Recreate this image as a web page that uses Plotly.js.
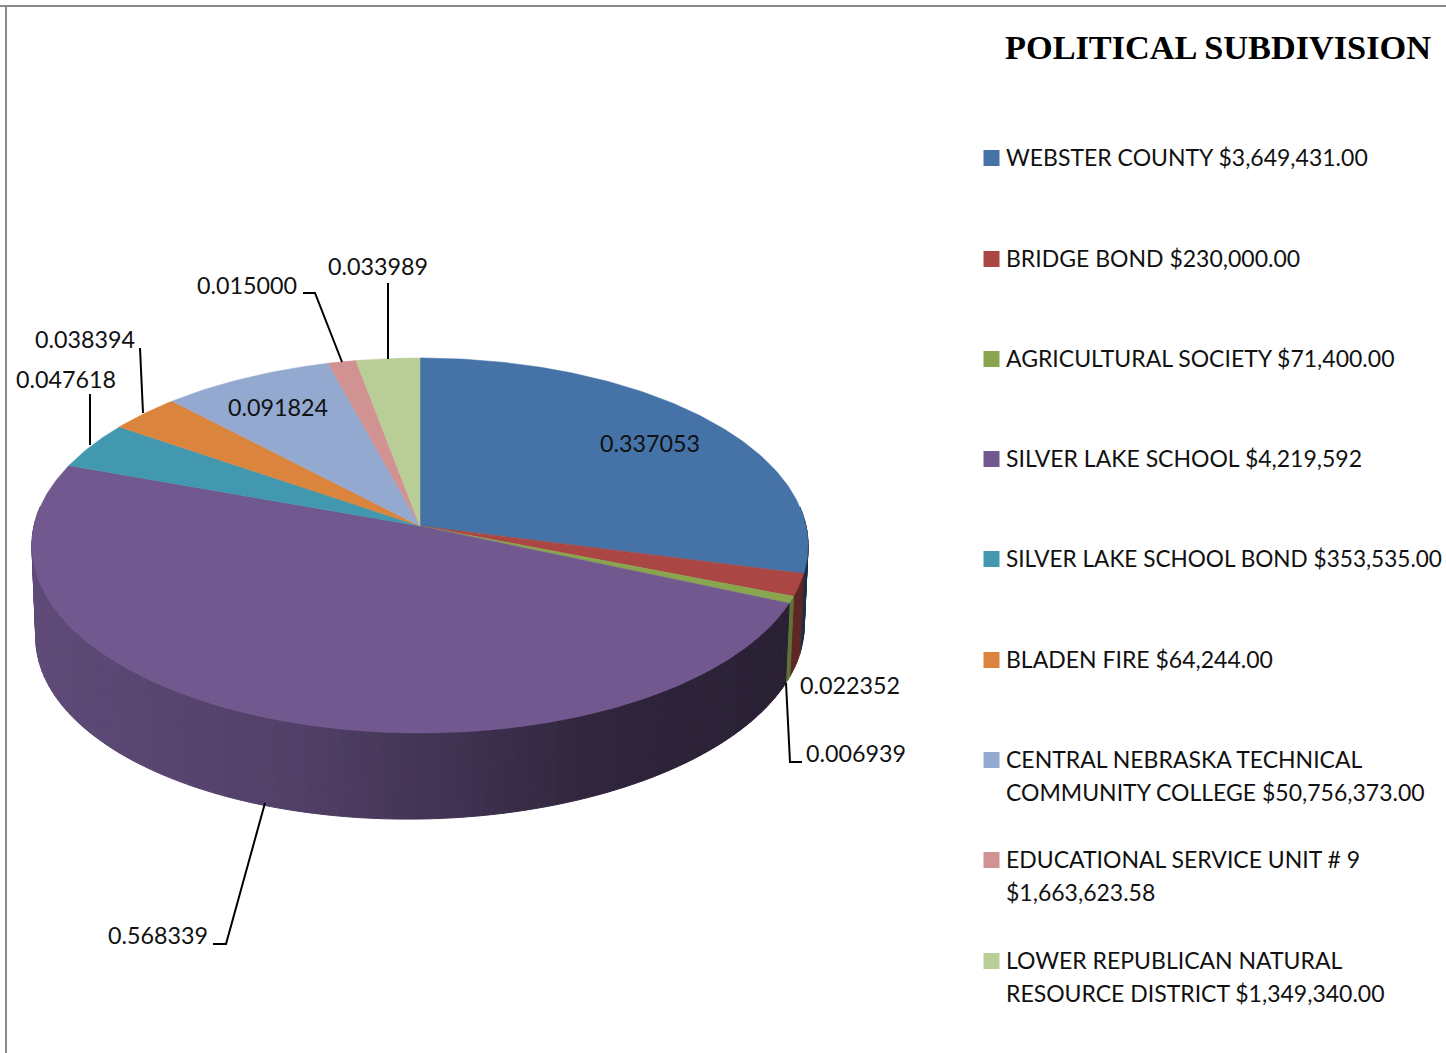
<!DOCTYPE html>
<html>
<head>
<meta charset="utf-8">
<script src="https://cdn.plot.ly/plotly-3.0.1.min.js"></script>
<style>html,body{margin:0;padding:0;background:#fff;overflow:hidden}#chart{width:1446px;height:1053px}</style>
</head>
<body>
<div id="chart"></div>
<script>
// ---- data ----
const categories = ["WEBSTER COUNTY", "BRIDGE BOND", "AGRICULTURAL SOCIETY", "SILVER LAKE SCHOOL",
  "SILVER LAKE SCHOOL BOND", "BLADEN FIRE", "CENTRAL NEBRASKA TECHNICAL COMMUNITY COLLEGE",
  "EDUCATIONAL SERVICE UNIT # 9", "LOWER REPUBLICAN NATURAL RESOURCE DISTRICT"];
const values = [0.337053, 0.022352, 0.006939, 0.568339, 0.047618, 0.038394, 0.091824, 0.015000, 0.033989];
const legendLines = [
  ["WEBSTER COUNTY $3,649,431.00"],
  ["BRIDGE BOND $230,000.00"],
  ["AGRICULTURAL SOCIETY $71,400.00"],
  ["SILVER LAKE SCHOOL $4,219,592"],
  ["SILVER LAKE SCHOOL BOND $353,535.00"],
  ["BLADEN FIRE $64,244.00"],
  ["CENTRAL NEBRASKA TECHNICAL", "COMMUNITY COLLEGE $50,756,373.00"],
  ["EDUCATIONAL SERVICE UNIT # 9", "$1,663,623.58"],
  ["LOWER REPUBLICAN NATURAL", "RESOURCE DISTRICT $1,349,340.00"]
];
// ---- styles and layout ----
const colors = ["#4572A7","#AA4643","#89A54E","#71588F","#4198AF","#DB843D","#93A9CF","#D19392","#B9CD96"];
const wallBoost = [1.15,1.5,1.9,1,1,1,1,1,1];
const legendY = [158,259,359,459,559,660,760,860,961];
const legendSize = [23,23,23,23,22.6,23,23,23,23];
const labelPos = [[599,443],[799,685],[805,753],[107,935],[15,379],[34,339],[227,407],[196,285],[327,266]];
const leaders = [
  [[786,683],[790,762],[802,762]],
  [[265,803],[226,944],[213,944]],
  [[90,394],[90,445]],
  [[140,348],[143,413]],
  [[303,293],[315,293],[342,362]],
  [[388,283],[388,359]]
];
const FONT = "Lato, Carlito, Calibri, sans-serif";
const TXT = "#111111";
// pie projection (perspective ellipse with apex off ellipse centre)
const CX = 420, CY = 526, R = 386, A = 185.5, P = 0.104;
const BX = 0.99, BY = 612, TILT = 6;
function proj(th){ const t=Math.sin(th), s=-Math.cos(th), d=1-P*s; return [R*t/d, A*s/d]; }
function rimT(th){ const q=proj(th); return [CX+q[0], CY+q[1]]; }
function rimB(th){ const q=proj(th); return [CX+BX*q[0], BY+q[1]-TILT*q[0]/390]; }
function shade(x0){
  const k=[[-390,.84],[-120,.72],[0,.60],[180,.42],[390,.36]];
  for(let i=0;i<k.length-1;i++){ if(x0<=k[i+1][0]){ const f=(x0-k[i][0])/(k[i+1][0]-k[i][0]); return k[i][1]+f*(k[i+1][1]-k[i][1]); } }
  return .36;
}
function mult(hex,f){ const n=parseInt(hex.slice(1),16); const c=[n>>16,(n>>8)&255,n&255].map(v=>Math.min(255,Math.round(v*f))); return `rgb(${c[0]},${c[1]},${c[2]})`; }

const total = values.reduce((a,b)=>a+b,0);
const traces = [];
const STEP = Math.PI/120;
const VIS0 = Math.acos(P), VIS1 = 2*Math.PI-VIS0;
let cum = 0;
const spans = values.map(v=>{ const a=cum/total*2*Math.PI; cum+=v; return [a,cum/total*2*Math.PI]; });

// side wall strips
spans.forEach((sp,i)=>{
  const a=Math.max(sp[0],VIS0), b=Math.min(sp[1],VIS1);
  if(b<=a) return;
  const n=Math.max(1,Math.ceil((b-a)/STEP));
  for(let j=0;j<n;j++){
    const t0=a+(b-a)*j/n, t1=a+(b-a)*(j+1)/n;
    const p=[rimT(t0),rimT(t1),rimB(t1),rimB(t0),rimT(t0)];
    const col=mult(colors[i],shade(proj((t0+t1)/2)[0])*wallBoost[i]);
    traces.push({type:"scatter",mode:"lines",x:p.map(q=>q[0]),y:p.map(q=>q[1]),fill:"toself",fillcolor:col,
      line:{color:col,width:1},hoverinfo:"skip",showlegend:false});
  }
});
// top faces
spans.forEach((sp,i)=>{
  const xs=[CX], ys=[CY];
  const n=Math.max(2,Math.ceil((sp[1]-sp[0])/(STEP/2)));
  for(let j=0;j<=n;j++){ const q=rimT(sp[0]+(sp[1]-sp[0])*j/n); xs.push(q[0]); ys.push(q[1]); }
  xs.push(CX); ys.push(CY);
  traces.push({type:"scatter",mode:"lines",x:xs,y:ys,fill:"toself",fillcolor:colors[i],name:categories[i],
    line:{color:colors[i],width:0.5},hoverinfo:"name",showlegend:false});
});
// legend swatches
traces.push({type:"scatter",mode:"markers",x:categories.map(()=>991.5),y:legendY,
  marker:{symbol:"square",size:16,color:colors,line:{width:0}},hoverinfo:"skip",showlegend:false});

const annotations = [];
values.forEach((v,i)=>annotations.push({x:labelPos[i][0],y:labelPos[i][1],xref:"x",yref:"y",xanchor:"left",yanchor:"middle",
  text:v.toFixed(6),showarrow:false,borderpad:0,font:{family:FONT,size:23.3,color:TXT}}));
legendLines.forEach((ls,i)=>ls.forEach((t,j)=>annotations.push({x:1004.5,y:legendY[i]-1+j*33,xref:"x",yref:"y",xanchor:"left",yanchor:"middle",
  text:t,showarrow:false,borderpad:0,font:{family:FONT,size:legendSize[i],color:TXT}})));

const shapes = leaders.map(l=>({type:"path",xref:"x",yref:"y",
  path:l.map((q,i)=>(i?"L":"M")+q[0]+" "+q[1]).join(" "),line:{color:"#000",width:2}}));
shapes.push({type:"line",xref:"x",yref:"y",x0:0,x1:1446,y0:6,y1:6,line:{color:"#8c8c8c",width:2}});
shapes.push({type:"line",xref:"x",yref:"y",x0:6,x1:6,y0:6,y1:1053,line:{color:"#8c8c8c",width:2}});

const layout = {
  width:1446,height:1053,margin:{l:0,r:0,t:0,b:0},paper_bgcolor:"#fff",plot_bgcolor:"#fff",showlegend:false,
  title:{text:"<b>POLITICAL SUBDIVISION</b>",x:1005/1446,xanchor:"left",xref:"paper",y:1-47/1053,yanchor:"middle",yref:"paper",
    font:{family:"'Liberation Serif', serif",size:34.3,color:"#000"}},
  xaxis:{range:[0,1446],visible:false,fixedrange:true},
  yaxis:{range:[1053,0],visible:false,fixedrange:true},
  annotations, shapes
};
Plotly.newPlot("chart",traces,layout,{displayModeBar:false,staticPlot:true});
</script>
</body>
</html>
